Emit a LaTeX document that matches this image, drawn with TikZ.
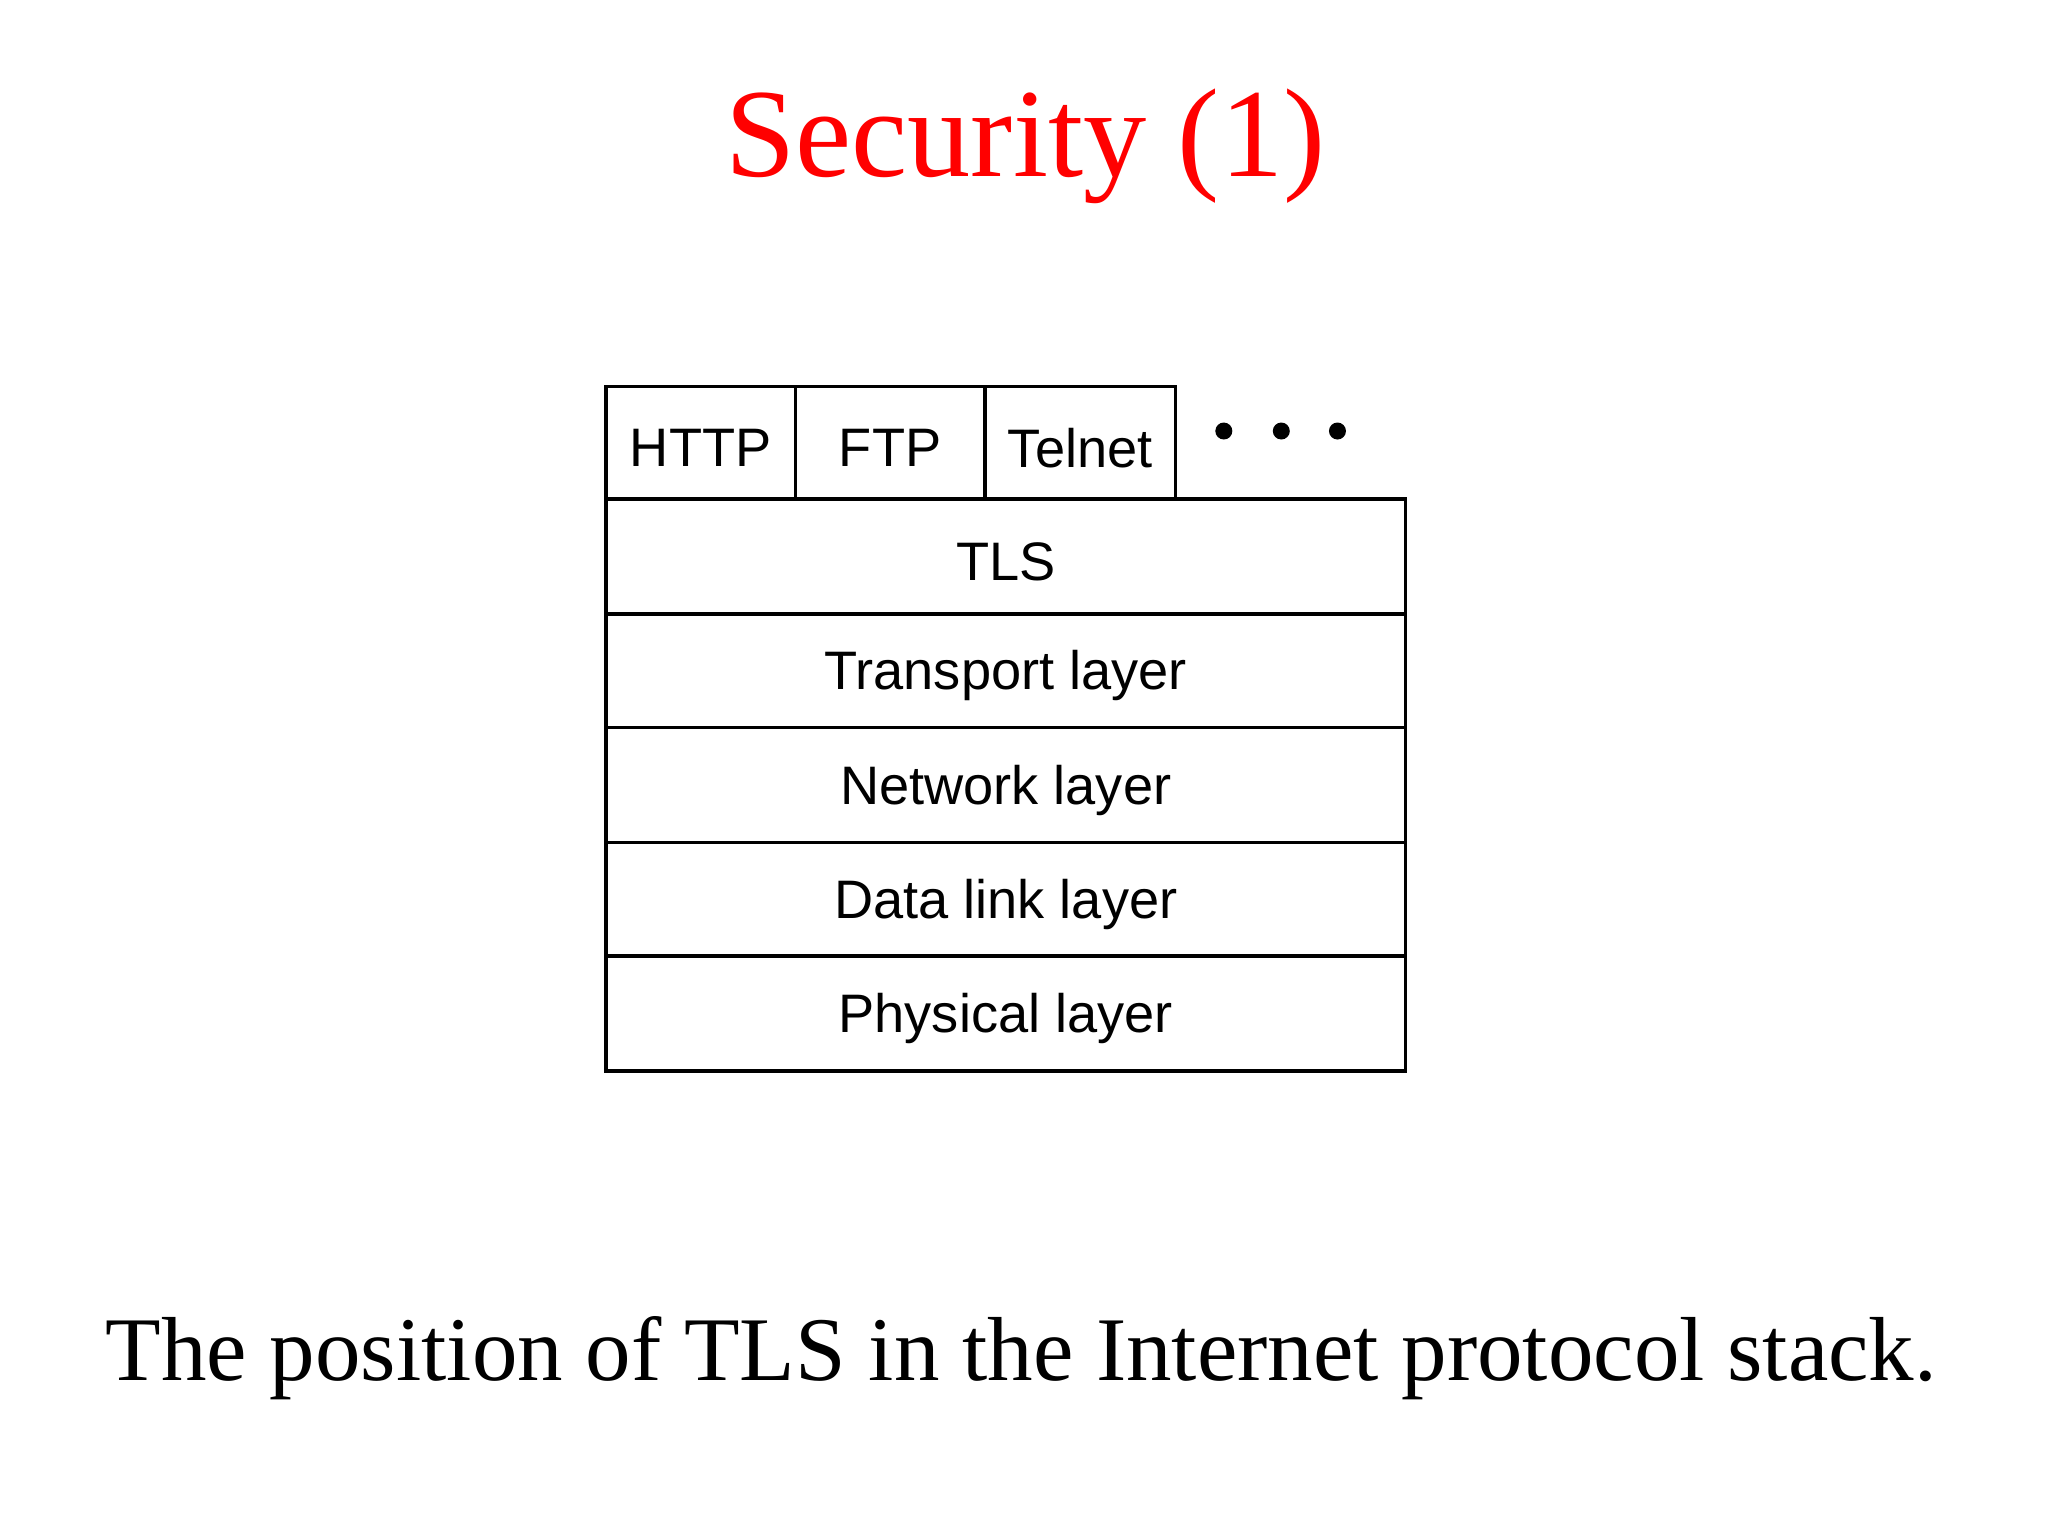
\documentclass[tikz,border=0pt]{standalone}
\usepackage{fontspec}
\setmainfont{Liberation Serif}
\newfontfamily\boxfont{Liberation Sans}
\begin{document}
\begin{tikzpicture}[x=0.01cm,y=-0.01cm,
  cell/.style={draw=black,line width=0.8pt,font=\boxfont\fontsize{11.8}{14}\selectfont},
  lbl/.style={draw=none,yshift=-0.04cm},
  dot/.style={fill=black,circle,inner sep=0pt,minimum size=0.13cm}]
\useasboundingbox (0,0) rectangle (1568,1176);
\node[text=red,font=\fontsize{27.5}{32}\selectfont] (title) at (785,112) {Security (1)};
\draw[cell] (464,296) rectangle (609,382) node[midway,lbl] (http) {HTTP};
\draw[cell] (609,296) rectangle (754,382) node[midway,lbl] (ftp) {FTP};
\draw[cell] (754,296) rectangle (900,382) node[midway,lbl] (telnet) {Telnet};
\draw[cell] (464,382) rectangle (1076,470) node[midway,lbl] (tls) {TLS};
\draw[cell] (464,470) rectangle (1076,557) node[midway,lbl] (tr) {Transport layer};
\draw[cell] (464,557) rectangle (1076,645) node[midway,lbl] (nw) {Network layer};
\draw[cell] (464,645) rectangle (1076,732) node[midway,lbl] (dl) {Data link layer};
\draw[cell] (464,732) rectangle (1076,820) node[midway,lbl] (ph) {Physical layer};
\node[dot] (d1) at (937,330) {};
\node[dot] (d2) at (981,330) {};
\node[dot] (d3) at (1024,330) {};
\node[font=\fontsize{19.8}{24}\selectfont] (cap) at (782,1040) {The position of TLS in the Internet protocol stack.};
\end{tikzpicture}
\end{document}
